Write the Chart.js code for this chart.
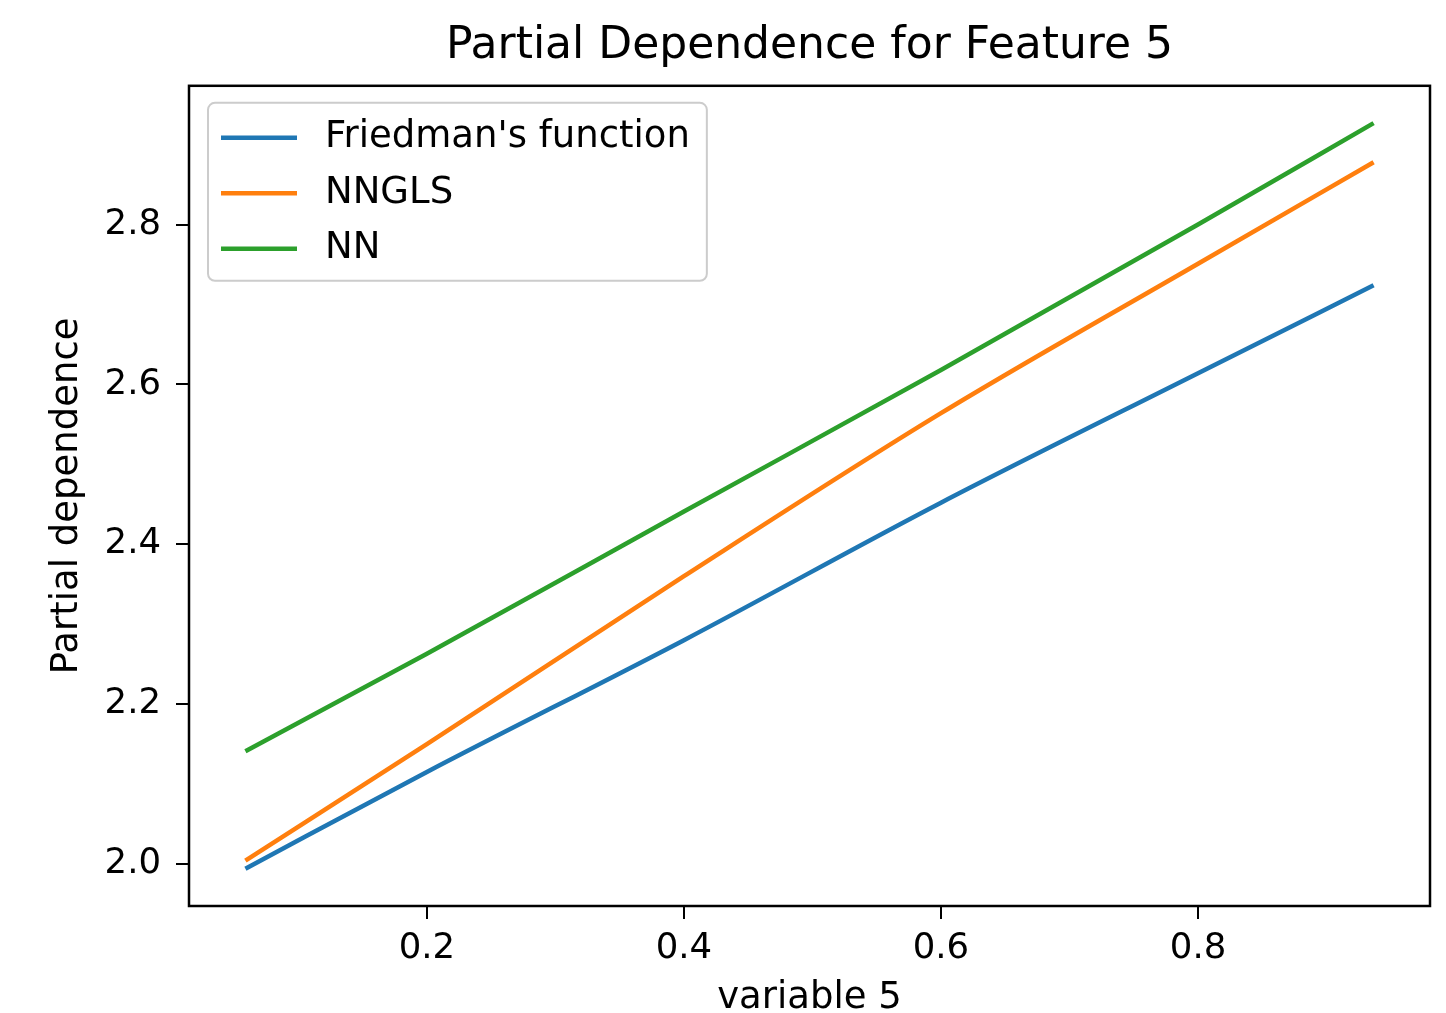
<!DOCTYPE html>
<html>
<head>
<meta charset="utf-8">
<title>Partial Dependence for Feature 5</title>
<script src="https://cdn.jsdelivr.net/npm/chart.js@4.4.1/dist/chart.umd.min.js"></script>
<style>
  html, body { margin: 0; padding: 0; background: #fff; }
  #wrap { width: 1446px; height: 1013px; }
</style>
</head>
<body>
<div id="wrap"><canvas id="pdChart"></canvas></div>
<script>
// values
const xValues = [0.0588, 0.2, 0.4, 0.6, 0.8, 0.9366];
const friedmanValues = [1.994, 2.115, 2.280, 2.452, 2.614, 2.724];
const nnglsValues = [2.004, 2.150, 2.360, 2.564, 2.751, 2.878];
const nnValues = [2.141, 2.263, 2.441, 2.618, 2.800, 2.927];

const xTicks = [0.2, 0.4, 0.6, 0.8];
const yTicks = [2.0, 2.2, 2.4, 2.6, 2.8];
const seriesLabels = ["Friedman's function", "NNGLS", "NN"];
const seriesColors = ['#1f77b4', '#ff7f0e', '#2ca02c'];

const FONT = '"DejaVu Sans", "Liberation Sans", sans-serif';

// matplotlib-like 5% margins around the data
function paddedRange(values) {
    const lo = Math.min(...values);
    const hi = Math.max(...values);
    const m = (hi - lo) * 0.05;
    return [lo - m, hi + m];
}
const [xMin, xMax] = paddedRange(xValues);
const [yMin, yMax] = paddedRange([].concat(friedmanValues, nnglsValues, nnValues));

function toPoints(ys) {
    return xValues.map((x, i) => ({ x: x, y: ys[i] }));
}

const allSeries = [friedmanValues, nnglsValues, nnValues];
const datasets = allSeries.map((ys, i) => ({
    label: seriesLabels[i],
    data: toPoints(ys),
    borderColor: seriesColors[i],
    backgroundColor: seriesColors[i],
    borderWidth: 4.5,
    pointRadius: 0,
    cubicInterpolationMode: 'monotone',
    fill: false
}));

// black frame round the plot area
const axesFrame = {
    id: 'axesFrame',
    afterDraw(chart) {
        const { ctx, chartArea: a } = chart;
        ctx.save();
        ctx.strokeStyle = '#000';
        ctx.lineWidth = 2.5;
        ctx.strokeRect(a.left, a.top, a.right - a.left, a.bottom - a.top);
        ctx.restore();
    }
};

// boxed legend in the upper left corner, like matplotlib's
const boxLegend = {
    id: 'boxLegend',
    afterDatasetsDraw(chart) {
        const { ctx, chartArea: a } = chart;
        const fontSize = 37;
        ctx.save();
        ctx.font = fontSize + 'px ' + FONT;
        const items = chart.data.datasets;
        const textW = Math.max(...items.map(ds => ctx.measureText(ds.label).width));
        const x0 = a.left + 19;
        const y0 = a.top + 17;
        const handle = 76, gap = 28, rowH = 55.5;
        const w = 13 + handle + gap + textW + 17;
        const h = 178;

        ctx.beginPath();
        ctx.roundRect(x0, y0, w, h, 7);
        ctx.fillStyle = 'rgba(255,255,255,0.8)';
        ctx.fill();
        ctx.lineWidth = 2;
        ctx.strokeStyle = '#cccccc';
        ctx.stroke();

        items.forEach((ds, i) => {
            const cy = y0 + 35 + i * rowH;
            ctx.beginPath();
            ctx.moveTo(x0 + 13, cy);
            ctx.lineTo(x0 + 13 + handle, cy);
            ctx.strokeStyle = ds.borderColor;
            ctx.lineWidth = 4.5;
            ctx.stroke();
            ctx.fillStyle = '#000';
            ctx.textBaseline = 'middle';
            ctx.textAlign = 'left';
            ctx.fillText(ds.label, x0 + 13 + handle + gap, cy);
        });
        ctx.restore();
    }
};

const tickFont = { family: FONT, size: 35.5 };

new Chart(document.getElementById('pdChart'), {
    type: 'line',
    data: { datasets: datasets },
    options: {
        responsive: true,
        maintainAspectRatio: false,
        animation: false,
        layout: { padding: { left: 0, right: 16, top: 0, bottom: 0 } },
        plugins: {
            legend: { display: false },
            tooltip: { enabled: false },
            title: {
                display: true,
                fullSize: false,
                text: 'Partial Dependence for Feature 5',
                color: '#000',
                font: { family: FONT, size: 44, weight: 'normal', lineHeight: 1.2 },
                padding: { top: 20, bottom: 13 }
            }
        },
        scales: {
            x: {
                type: 'linear',
                min: xMin,
                max: xMax,
                afterBuildTicks: s => { s.ticks = xTicks.map(v => ({ value: v })); },
                afterFit: s => { s.height = 107; },
                ticks: {
                    color: '#000',
                    font: tickFont,
                    padding: 8,
                    maxRotation: 0,
                    autoSkip: false,
                    callback: v => v.toFixed(1)
                },
                grid: {
                    drawOnChartArea: false,
                    drawTicks: true,
                    tickLength: 13,
                    color: '#000',
                    lineWidth: 2
                },
                border: { display: false },
                title: {
                    display: true,
                    text: 'variable 5',
                    color: '#000',
                    font: { family: FONT, size: 37, lineHeight: 1 },
                    padding: { top: 0, bottom: -4 }
                }
            },
            y: {
                type: 'linear',
                min: yMin,
                max: yMax,
                afterBuildTicks: s => { s.ticks = yTicks.map(v => ({ value: v })); },
                afterFit: s => { s.width = 189; },
                ticks: {
                    color: '#000',
                    font: tickFont,
                    padding: 15,
                    autoSkip: false,
                    callback: v => v.toFixed(1)
                },
                grid: {
                    drawOnChartArea: false,
                    drawTicks: true,
                    tickLength: 13,
                    color: '#000',
                    lineWidth: 2
                },
                border: { display: false },
                title: {
                    display: true,
                    text: 'Partial dependence',
                    color: '#000',
                    font: { family: FONT, size: 37, lineHeight: 1.2 },
                    padding: { top: 45, bottom: 0 }
                }
            }
        }
    },
    plugins: [boxLegend, axesFrame]
});
</script>
</body>
</html>
